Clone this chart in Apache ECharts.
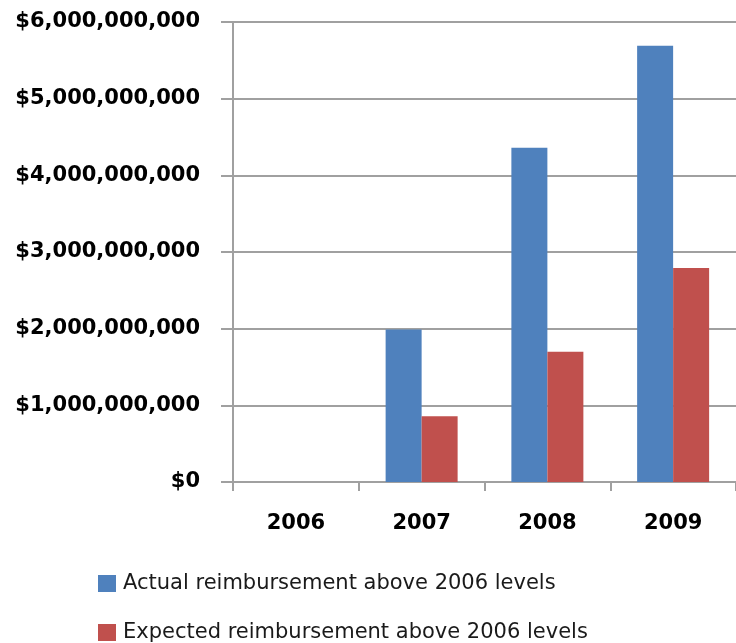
<!DOCTYPE html>
<html>
<head>
<meta charset="utf-8">
<script src="https://cdn.jsdelivr.net/npm/echarts@6/dist/echarts.min.js"></script>
<style>html,body{margin:0;padding:0;background:#fff;}#c{width:736px;height:643px;}</style>
</head>
<body>
<div id="c"></div>
<script>
var categories = ['2006', '2007', '2008', '2009'];
var actualValues = [0, 1990000000, 4360000000, 5690000000];
var expectedValues = [0, 857000000, 1700000000, 2790000000];
var seriesNames = ['Actual reimbursement above 2006 levels', 'Expected reimbursement above 2006 levels'];

function fmt(v) {
  var s = String(Math.round(v));
  return '$' + s.replace(/\B(?=(\d{3})+(?!\d))/g, ',');
}

var legendText = { fontFamily: 'DejaVu Sans', fontSize: 21, color: '#1a1a1a', padding: [0, 0, 0, 2] };
function mkLegend(name, top) {
  return {
    left: 98, top: top, itemWidth: 18, itemHeight: 17, itemGap: 0,
    icon: 'rect', textStyle: legendText, data: [name], padding: 0
  };
}

var chart = echarts.init(document.getElementById('c'));
chart.setOption({
  animation: false,
  backgroundColor: '#ffffff',
  grid: { left: 233, top: 22, width: 508, height: 460, containLabel: false },
  legend: [mkLegend(seriesNames[0], 573), mkLegend(seriesNames[1], 622)],
  xAxis: {
    type: 'category',
    data: categories,
    boundaryGap: true,
    axisLine: { show: true, lineStyle: { color: '#a0a0a0', width: 2 } },
    axisTick: { show: true, length: 9, alignWithLabel: false, lineStyle: { color: '#a0a0a0', width: 2 } },
    axisLabel: { margin: 31, fontFamily: 'DejaVu Sans', fontWeight: 'bold', fontSize: 21, color: '#000' },
    splitLine: { show: false }
  },
  yAxis: {
    type: 'value',
    min: 0,
    max: 6000000000,
    interval: 1000000000,
    axisLine: { show: true, lineStyle: { color: '#a0a0a0', width: 2 } },
    axisTick: { show: true, length: 12, lineStyle: { color: '#a0a0a0', width: 2 } },
    axisLabel: { margin: 33, formatter: fmt, fontFamily: 'DejaVu Sans', fontWeight: 'bold', fontSize: 21, color: '#000' },
    splitLine: { show: true, lineStyle: { color: '#a0a0a0', width: 2 } }
  },
  series: [
    {
      name: seriesNames[0],
      type: 'bar',
      data: actualValues,
      barWidth: 36,
      barGap: '0%',
      itemStyle: { color: '#4F81BD' }
    },
    {
      name: seriesNames[1],
      type: 'bar',
      data: expectedValues,
      barWidth: 36,
      barGap: '0%',
      itemStyle: { color: '#C0504D' }
    }
  ]
});
</script>
</body>
</html>
